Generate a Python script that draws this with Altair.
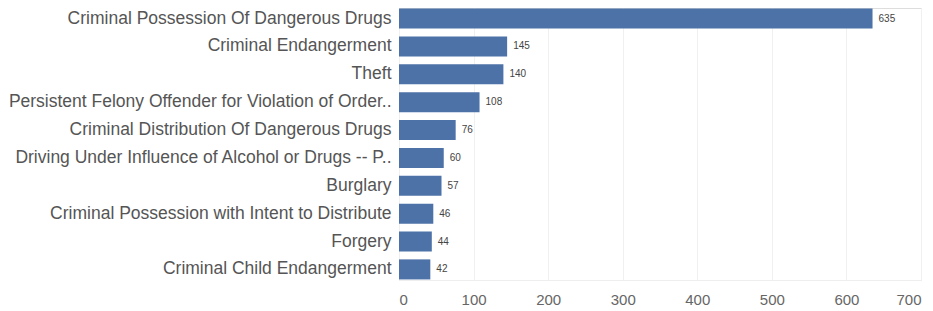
import altair as alt
import pandas as pd

categories = [
    "Criminal Possession Of Dangerous Drugs",
    "Criminal Endangerment",
    "Theft",
    "Persistent Felony Offender for Violation of Order..",
    "Criminal Distribution Of Dangerous Drugs",
    "Driving Under Influence of Alcohol or Drugs -- P..",
    "Burglary",
    "Criminal Possession with Intent to Distribute",
    "Forgery",
    "Criminal Child Endangerment",
]
counts = [635, 145, 140, 108, 76, 60, 57, 46, 44, 42]
x_ticks = [0, 100, 200, 300, 400, 500, 600, 700]

df = pd.DataFrame({"offense": categories, "count": counts})

y_enc = alt.Y(
    "offense:N",
    sort=categories,
    title=None,
    scale=alt.Scale(paddingInner=0.28, paddingOuter=0.02),
    axis=alt.Axis(
        labelFont="Liberation Sans",
        labelFontSize=17.5,
        labelColor="#555555",
        labelLimit=500,
        labelPadding=8,
        ticks=False,
        domain=False,
        grid=False,
    ),
)
x_enc = alt.X(
    "count:Q",
    title=None,
    scale=alt.Scale(domain=[0, 700], nice=False),
    axis=alt.Axis(
        values=x_ticks,
        labelFont="Liberation Sans",
        labelFontSize=15,
        labelColor="#666666",
        labelPadding=12,
        ticks=False,
        domain=True,
        domainColor="#eeeeee",
        grid=True,
        gridColor="#f0f0f0",
        labelFlush=True,
    ),
)

base = alt.Chart(df)
bars = base.mark_bar(color="#4c72a8").encode(x=x_enc, y=y_enc)
text = base.mark_text(
    align="left", baseline="middle", dx=6, fontSize=10,
    font="Liberation Sans", color="#444444"
).encode(x="count:Q", y=alt.Y("offense:N", sort=categories), text="count:Q")

chart = (
    alt.layer(bars, text)
    .properties(
        width=522,
        height=272,
        autosize=alt.AutoSizeParams(type="none"),
        padding={"left": 391, "top": 0, "right": 4, "bottom": 30},
    )
    .configure_view(stroke=None)
    .configure(background="white")
)

chart.save("out.html", embed_options={"renderer": "svg", "actions": False})
